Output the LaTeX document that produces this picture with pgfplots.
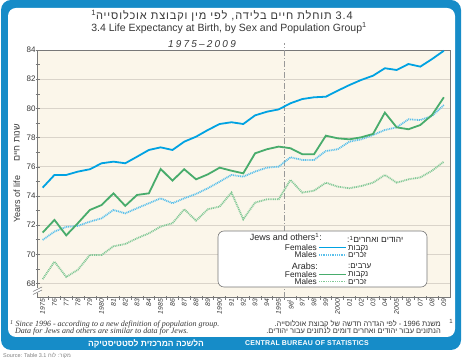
\documentclass[border=0pt]{standalone}
\usepackage{pgfplots}
\pgfplotsset{compat=1.18}
\usepackage{pgfplotstable}
\usepackage{fontspec}
\setmainfont{Liberation Sans}
\newfontfamily\heb[Script=Hebrew]{Liberation Sans}
\newfontfamily\tnr{Liberation Serif}
\TeXXeTstate=1
\definecolor{frameblue}{RGB}{22,140,200}
\definecolor{cream}{RGB}{251,246,234}
\definecolor{jblue}{RGB}{0,162,226}
\definecolor{jbluel}{RGB}{90,192,235}
\definecolor{agreen}{RGB}{72,172,108}
\definecolor{agreenl}{RGB}{130,200,150}
\definecolor{gridc}{RGB}{218,212,202}
\definecolor{axc}{RGB}{120,120,120}
\definecolor{txt}{RGB}{55,55,55}

\pgfplotstableread{
year JF JM AF AM
1975 74.57 70.99 71.49 68.30
1976 75.44 71.56 72.36 69.50
1977 75.44 71.88 71.30 68.45
1978 75.67 71.95 72.15 68.95
1979 75.83 72.24 73.04 69.96
1980 76.24 72.47 73.38 69.96
1981 76.35 73.04 74.18 70.55
1982 76.24 72.81 73.32 70.71
1983 76.69 73.16 74.07 71.10
1984 77.15 73.50 74.18 71.44
1985 77.33 73.84 75.85 71.90
1986 77.15 73.50 75.05 72.13
1987 77.72 73.84 75.83 73.09
1988 78.06 74.14 75.14 72.31
1989 78.52 74.53 75.48 73.09
1990 78.93 74.98 75.94 73.27
1991 79.05 75.44 75.73 74.23
1992 78.93 75.32 75.55 72.40
1993 79.52 75.67 76.92 73.55
1994 79.77 75.94 77.20 73.77
1995 79.93 76.01 77.38 73.77
1996 80.35 76.65 77.27 75.10
1997 80.64 76.47 76.86 74.23
1998 80.76 76.47 76.86 74.36
1999 80.80 77.08 78.13 74.91
2000 81.21 77.20 77.95 74.64
2001 81.60 77.72 77.88 74.53
2002 81.95 77.88 78.02 74.68
2003 82.24 78.18 78.25 74.91
2004 82.75 78.52 79.71 75.44
2005 82.63 78.70 78.70 74.91
2006 83.04 79.25 78.57 75.14
2007 82.86 79.20 78.86 75.27
2008 83.38 79.48 79.55 75.73
2009 83.95 80.23 80.76 76.35
}\data

\begin{document}
\begin{tikzpicture}[x=1pt,y=1pt]
\path[use as bounding box] (0,0) rectangle (462,363);
\fill[frameblue, rounded corners=10pt] (1,13) rectangle (461,363);
\fill[white, rounded corners=8pt] (8,26) rectangle (455,355);

% titles
\node[font=\heb\fontsize{11}{11}\selectfont\addfontfeature{LetterSpace=8}, text=txt] at (222,347)
  {\beginR\beginL 3.4\endL{} תוחלת חיים בלידה, לפי מין וקבוצת אוכלוסייה\textsuperscript{1}\endR};
\node[font=\fontsize{10.5}{10.5}\selectfont, text=txt] at (229,335)
  {3.4 Life Expectancy at Birth, by Sex and Population Group\textsuperscript{1}};
\node[font=\itshape\fontsize{10}{10}\selectfont\addfontfeature{LetterSpace=22}, text=txt] at (202,319) {1975–2009};

% y label
\node[rotate=90, font=\fontsize{9}{9}\selectfont, text=txt] at (17,164) {Years of life};
\node[rotate=90, font=\heb\fontsize{9}{9}\selectfont, text=txt] at (17,220) {\beginR שנות חיים\endR};

\begin{axis}[
  at={(37.7pt,65.3pt)}, anchor=south west,
  width=412.3pt, height=247.7pt, scale only axis,
  xmin=1974.58, xmax=2009.52, ymin=67.03, ymax=84,
  axis background/.style={fill=cream},
  axis line style={axc, line width=0.6pt},
  ytick={68,70,...,84},
  minor ytick={68,...,84},
  ymajorgrids, grid style={gridc, line width=0.8pt},
  xtick={1975,...,2009},
  xticklabels={1975,76,77,78,79,1980,81,82,83,84,1985,86,87,88,89,1990,91,92,93,94,1995,96\textsuperscript{1},97,98,99,2000,01,02,03,04,2005,06,07,08,09},
  minor xtick={1975.5,1976.5,...,2008.5},
  tick align=center, major tick length=0pt, minor tick length=4pt,
  tick style={axc, line width=0.5pt},
  xtick pos=bottom, ytick pos=left,
  xticklabel style={rotate=90, anchor=east, font=\fontsize{6.8}{6.8}\selectfont\itshape, text=txt, inner sep=1pt},
  yticklabel style={font=\fontsize{8}{8}\selectfont, text=txt, inner sep=2pt},
  /pgf/number format/assume math mode=true,
  clip=false, no markers,
]
\draw[gray!80, line width=0.8pt, dash pattern=on 6pt off 2pt on 1pt off 2pt] (axis cs:1995.5,67.03) -- (axis cs:1995.5,84.48);
\addplot[jblue, line width=1.8pt] table[x=year,y=JF]{\data};
\addplot[jbluel, line width=1.8pt, dash pattern=on 1pt off 0.8pt] table[x=year,y=JM]{\data};
\addplot[agreen, line width=1.8pt] table[x=year,y=AF]{\data};
\addplot[agreenl, line width=1.8pt, dash pattern=on 1pt off 0.8pt] table[x=year,y=AM]{\data};
\end{axis}

% axis break
\fill[white] (34,70) rectangle (41,74.5);
\draw[axc, line width=0.5pt] (33,68.5) -- (42,73);
\draw[axc, line width=0.5pt] (33,71.5) -- (42,76);

% legend
\draw[axc, fill=white, rounded corners=6pt, line width=0.6pt] (218,76) rectangle (427,132);
\begin{scope}[every node/.style={inner sep=0pt, text=black!85, font=\fontsize{8.3}{8.3}\selectfont}]
\node[anchor=base east, font=\fontsize{9}{9}\selectfont] at (322,122) {Jews and others\textsuperscript{1}:};
\node[anchor=base west, font=\heb\fontsize{8.5}{8.5}\selectfont] at (347,120) {\beginR יהודים ואחרים\textsuperscript{1}:\endR};
\node[anchor=base east] at (317,112.5) {Females};
\node[anchor=base east] at (317,105) {Males};
\node[anchor=base west, font=\heb\fontsize{8}{8}\selectfont] at (348,112.5) {\beginR נקבות\endR};
\node[anchor=base west, font=\heb\fontsize{8}{8}\selectfont] at (348,105) {\beginR זכרים\endR};
\node[anchor=base east, font=\fontsize{9}{9}\selectfont] at (318,93) {Arabs:};
\node[anchor=base west, font=\heb\fontsize{8}{8}\selectfont] at (348,94) {\beginR ערבים:\endR};
\node[anchor=base east] at (317,85.5) {Females};
\node[anchor=base east] at (317,78.5) {Males};
\node[anchor=base west, font=\heb\fontsize{8}{8}\selectfont] at (348,86) {\beginR נקבות\endR};
\node[anchor=base west, font=\heb\fontsize{8}{8}\selectfont] at (348,78.5) {\beginR זכרים\endR};
\end{scope}
\draw[jblue, line width=1.8pt] (319,115.5) -- (346,115.5);
\draw[jbluel, line width=1.8pt, dash pattern=on 1pt off 0.8pt] (319,108) -- (346,108);
\draw[agreen, line width=1.8pt] (319,88.5) -- (346,88.5);
\draw[agreenl, line width=1.8pt, dash pattern=on 1pt off 0.8pt] (319,81.5) -- (346,81.5);

% footnotes
\node[anchor=base west, inner sep=0pt, font=\tnr\itshape\fontsize{8}{8}\selectfont, text=txt] at (10,36)
  {\textsuperscript{1} Since 1996 - according to a new definition of population group.};
\node[anchor=base west, inner sep=0pt, font=\tnr\itshape\fontsize{8}{8}\selectfont, text=txt] at (15,29)
  {Data for Jews and others are similar to data for Jews.};
\node[anchor=base east, inner sep=0pt, font=\heb\fontsize{7.5}{7.5}\selectfont, text=txt] at (441,36)
  {\beginR משנת \beginL1996\endL{} - לפי הגדרה חדשה של קבוצת אוכלוסייה.\endR};
\node[anchor=base east, inner sep=0pt, font=\heb\fontsize{7.5}{7.5}\selectfont, text=txt] at (441,29)
  {\beginR הנתונים עבור יהודים ואחרים דומים לנתונים עבור יהודים.\endR};
\node[anchor=base, inner sep=0pt, font=\fontsize{6}{6}\selectfont, text=txt] at (451,39) {1};

% bottom band
\node[font=\heb\bfseries\fontsize{8.5}{8.5}\selectfont, text=white] at (146,19.5) {\beginR הלשכה המרכזית לסטטיסטיקה\endR};
\node[font=\bfseries\fontsize{7}{7}\selectfont\addfontfeature{LetterSpace=3}, text=white] at (307,19.5) {CENTRAL BUREAU OF STATISTICS};

% source
\node[anchor=base west, inner sep=0pt, font=\fontsize{5.5}{5.5}\selectfont, text=gray] at (3,5)
  {Source: Table 3.1 {\heb\beginR מקור: לוח\endR}};
\end{tikzpicture}
\end{document}
